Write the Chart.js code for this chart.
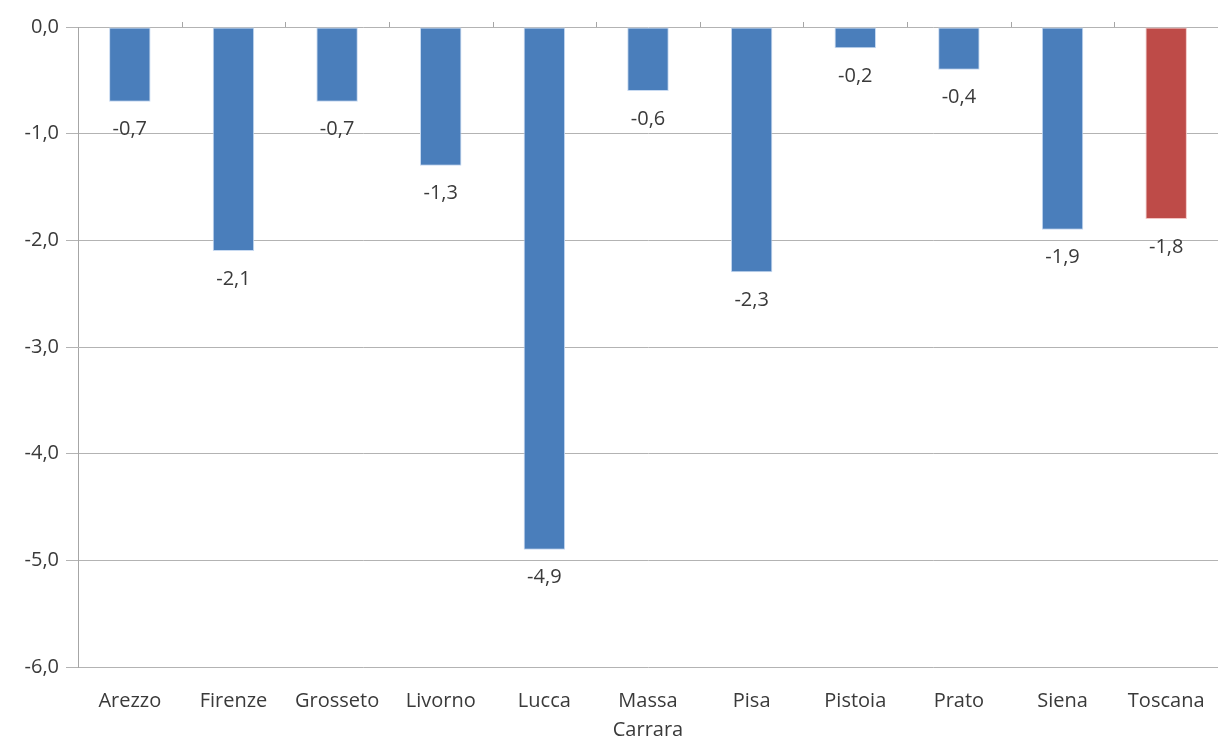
<!DOCTYPE html>
<html>
<head>
<meta charset="utf-8">
<script src="https://cdn.jsdelivr.net/npm/chart.js@4"></script>
<style>
  html, body { margin: 0; padding: 0; background: #ffffff; }
  #wrap { width: 1218px; height: 740px; }
</style>
</head>
<body>
<div id="wrap"><canvas id="chart" width="1218" height="740"></canvas></div>
<script>
// Variazione percentuale per provincia
const categories = ['Arezzo', 'Firenze', 'Grosseto', 'Livorno', 'Lucca', ['Massa', 'Carrara'], 'Pisa', 'Pistoia', 'Prato', 'Siena', 'Toscana'];
const values = [-0.7, -2.1, -0.7, -1.3, -4.9, -0.6, -2.3, -0.2, -0.4, -1.9, -1.8];
const barColors = ['#4a7ebb', '#4a7ebb', '#4a7ebb', '#4a7ebb', '#4a7ebb', '#4a7ebb', '#4a7ebb', '#4a7ebb', '#4a7ebb', '#4a7ebb', '#be4b48'];
const barEdges = ['#c6d9f1', '#c6d9f1', '#c6d9f1', '#c6d9f1', '#c6d9f1', '#c6d9f1', '#c6d9f1', '#c6d9f1', '#c6d9f1', '#c6d9f1', '#f2c4c3'];
const yMin = -6;
const yMax = 0;
const yStep = 1;

const FONT = '"Open Sans", Lato, sans-serif';
const FONT_SIZE = 20;
const TEXT = '#3a3a3a';

const fmt = v => v.toFixed(1).replace('.', ',');

// Value labels drawn under the end of each bar
const valueLabels = {
  id: 'valueLabels',
  afterDatasetsDraw(chart) {
    const ctx = chart.ctx;
    const meta = chart.getDatasetMeta(0);
    ctx.save();
    ctx.font = FONT_SIZE + 'px ' + FONT;
    ctx.fillStyle = TEXT;
    ctx.textAlign = 'center';
    ctx.textBaseline = 'middle';
    meta.data.forEach((bar, i) => {
      ctx.fillText(fmt(values[i]), bar.x, bar.y + 28);
    });
    ctx.restore();
  }
};

// Small category tick marks on the zero line
const zeroTicks = {
  id: 'zeroTicks',
  afterDraw(chart) {
    const x = chart.scales.x;
    const y0 = chart.scales.y.getPixelForValue(0);
    const ctx = chart.ctx;
    ctx.save();
    ctx.strokeStyle = '#a6a6a6';
    ctx.lineWidth = 1;
    const step = (x.right - x.left) / categories.length;
    for (let i = 1; i < categories.length; i++) {
      const px = Math.round(x.left + step * i) + 0.5;
      ctx.beginPath();
      ctx.moveTo(px, y0);
      ctx.lineTo(px, y0 - 5);
      ctx.stroke();
    }
    ctx.restore();
  }
};

new Chart(document.getElementById('chart'), {
  type: 'bar',
  data: {
    labels: categories,
    datasets: [{
      data: values,
      backgroundColor: barColors,
      borderColor: barEdges,
      borderWidth: 1,
      borderSkipped: false,
      categoryPercentage: 1,
      barPercentage: 0.4
    }]
  },
  options: {
    responsive: false,
    animation: false,
    layout: { padding: { top: 27, right: 0, bottom: 0, left: 0 } },
    plugins: {
      legend: { display: false },
      tooltip: { enabled: false }
    },
    scales: {
      x: {
        position: 'bottom',
        grid: { display: false },
        border: { display: false },
        ticks: {
          color: TEXT,
          font: { family: FONT, size: FONT_SIZE, lineHeight: 1.45 },
          padding: 12,
          maxRotation: 0,
          autoSkip: false
        },
        afterFit(axis) { axis.height = 73; }
      },
      y: {
        min: yMin,
        max: yMax,
        grid: {
          color: '#b3b3b3',
          lineWidth: 1,
          tickLength: 12,
          drawTicks: true
        },
        border: { display: true, color: '#a6a6a6' },
        ticks: {
          stepSize: yStep,
          color: TEXT,
          font: { family: FONT, size: FONT_SIZE },
          padding: 7,
          callback: v => fmt(v)
        },
        afterFit(axis) { axis.width = 78; }
      }
    }
  },
  plugins: [valueLabels, zeroTicks]
});
</script>
</body>
</html>
